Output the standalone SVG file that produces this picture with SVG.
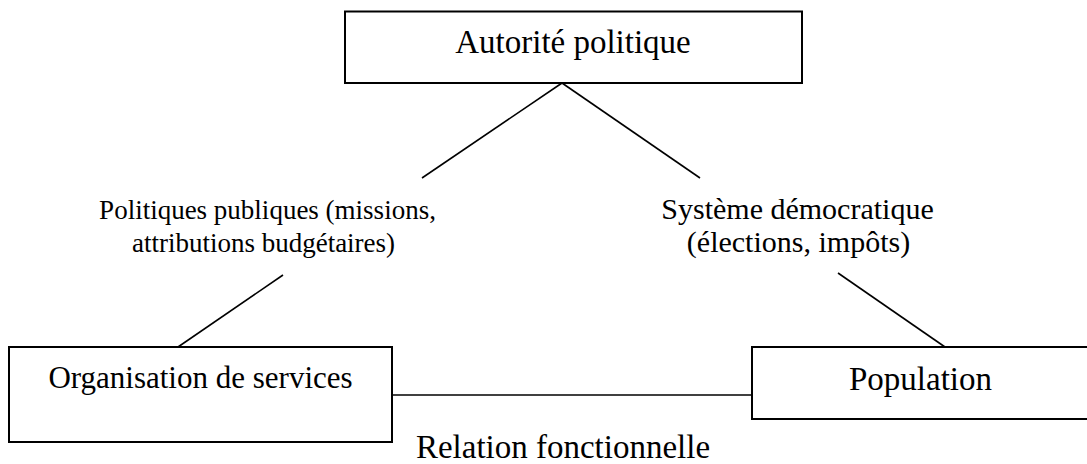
<svg xmlns="http://www.w3.org/2000/svg" width="1087" height="464" viewBox="0 0 1087 464">
  <style>
    .box { fill: #ffffff; stroke: #000000; stroke-width: 2; }
    .conn { stroke: #000000; stroke-width: 1.6; fill: none; }
    text { font-family: "Liberation Serif", "Times New Roman", serif; fill: #000000; text-anchor: middle; }
  </style>
  <rect width="1087" height="464" fill="#ffffff"/>
  <g id="connectors">
    <line class="conn" x1="562" y1="83" x2="422" y2="178"/>
    <line class="conn" x1="562" y1="83" x2="700" y2="178"/>
    <line class="conn" x1="283" y1="275" x2="178" y2="347"/>
    <line class="conn" x1="838" y1="273" x2="945" y2="347"/>
    <line class="conn" x1="392" y1="395" x2="752" y2="395"/>
  </g>
  <g id="autorite">
    <rect class="box" x="345" y="11.5" width="457" height="71.5"/>
    <text x="573" y="53" font-size="33">Autorité politique</text>
  </g>
  <g id="politiques-label">
    <text x="267.5" y="219" font-size="27">Politiques publiques (missions,</text>
    <text x="263.5" y="252" font-size="27">attributions budgétaires)</text>
  </g>
  <g id="systeme-label">
    <text x="797.5" y="219" font-size="30">Système démocratique</text>
    <text x="798.5" y="252" font-size="30">(élections, impôts)</text>
  </g>
  <g id="organisation">
    <rect class="box" x="9" y="347" width="383" height="95"/>
    <text x="200.5" y="388" font-size="31">Organisation de services</text>
  </g>
  <g id="population">
    <rect class="box" x="752" y="347" width="340" height="72"/>
    <text x="920.5" y="390" font-size="33">Population</text>
  </g>
  <g id="relation-label">
    <text x="563" y="458" font-size="33">Relation fonctionnelle</text>
  </g>
</svg>
